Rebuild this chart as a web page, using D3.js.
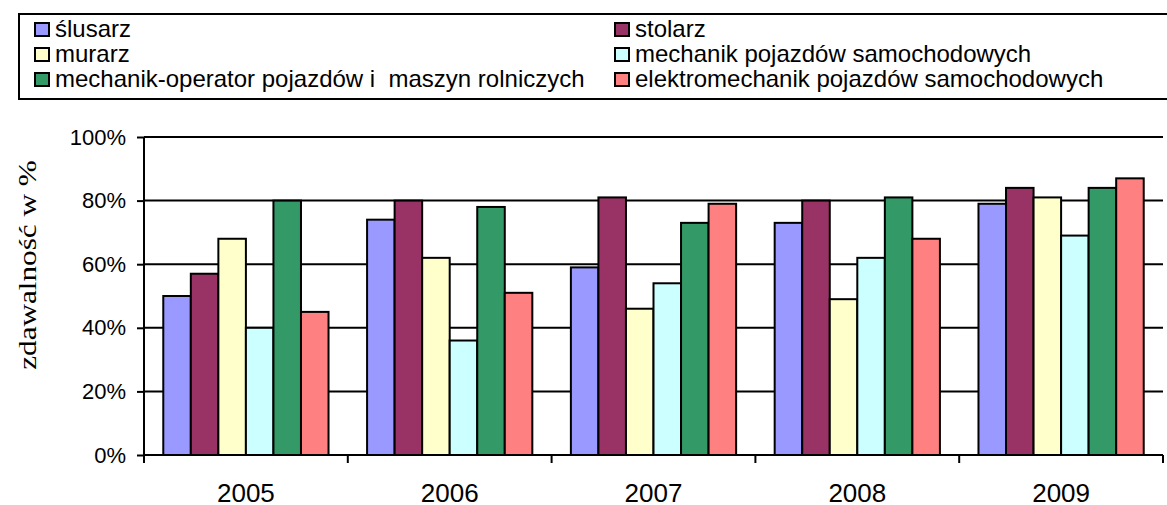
<!DOCTYPE html>
<html>
<head>
<meta charset="utf-8">
<script src="https://cdn.jsdelivr.net/npm/d3@7"></script>
<style>
  body { margin: 0; background: #fff; }
  svg { display: block; }
</style>
</head>
<body>
<div id="chart"></div>
<script>
// data
const years = ['2005', '2006', '2007', '2008', '2009'];
const trades = [
  'ślusarz',
  'stolarz',
  'murarz',
  'mechanik pojazdów samochodowych',
  'mechanik-operator pojazdów i  maszyn rolniczych',
  'elektromechanik pojazdów samochodowych'
];
const colors = ['#9999FF', '#993366', '#FFFFCC', '#CCFFFF', '#339966', '#FF8080'];
const slusarz         = [50, 74, 59, 73, 79];
const stolarz         = [57, 80, 81, 80, 84];
const murarz          = [68, 62, 46, 49, 81];
const mechanik        = [40, 36, 54, 62, 69];
const mechanikOp      = [80, 78, 73, 81, 84];
const elektromechanik = [45, 51, 79, 68, 87];
const series = [slusarz, stolarz, murarz, mechanik, mechanikOp, elektromechanik];
const yTicks = [0, 20, 40, 60, 80, 100];

const width = 1167, height = 505;
const margin = {top: 137, right: 4, bottom: 50, left: 144};
const innerWidth = width - margin.left - margin.right;
const innerHeight = height - margin.top - margin.bottom;

const svg = d3.select('#chart').append('svg')
    .attr('width', width)
    .attr('height', height);

const font = '"Liberation Sans", Arial, sans-serif';

// legend box (runs past the right edge like the original)
const legend = svg.append('g');
legend.append('rect')
    .attr('x', 19).attr('y', 14)
    .attr('width', 1170).attr('height', 85)
    .attr('fill', '#fff')
    .attr('stroke', '#000')
    .attr('stroke-width', 2);

const legendItems = legend.selectAll('g.item')
    .data(d3.range(trades.length))
    .join('g')
    .attr('class', 'item')
    .attr('transform', (d, i) => `translate(${i % 2 ? 614 : 34}, ${37 + Math.floor(i / 2) * 25})`);

legendItems.append('rect')
    .attr('x', 1).attr('y', -14)
    .attr('width', 14).attr('height', 13)
    .attr('fill', d => colors[d])
    .attr('stroke', '#000')
    .attr('stroke-width', 2);

legendItems.append('text')
    .attr('x', 21)
    .attr('y', 0)
    .attr('font-family', font)
    .attr('font-size', 24)
    .style('white-space', 'pre')
    .text(d => trades[d]);

// plot
const g = svg.append('g')
    .attr('transform', `translate(${margin.left}, ${margin.top})`);

const x0 = d3.scaleBand()
    .domain(years)
    .range([0, innerWidth])
    .padding(0);

const x1 = d3.scaleBand()
    .domain(d3.range(trades.length))
    .range([0, x0.bandwidth()])
    .paddingInner(0)
    .paddingOuter(0.7);

const y = d3.scaleLinear()
    .domain([0, 100])
    .range([innerHeight, 0]);

// gridlines
g.append('g')
    .selectAll('line')
    .data(yTicks.filter(d => d > 0))
    .join('line')
    .attr('x1', 0).attr('x2', innerWidth)
    .attr('y1', d => y(d)).attr('y2', d => y(d))
    .attr('stroke', '#000')
    .attr('stroke-width', 2);

// bars
g.append('g')
    .selectAll('g')
    .data(years)
    .join('g')
    .attr('transform', d => `translate(${x0(d)}, 0)`)
    .selectAll('rect')
    .data((d, yi) => series.map((s, si) => ({si, v: s[yi]})))
    .join('rect')
    .attr('x', d => x1(d.si))
    .attr('y', d => y(d.v))
    .attr('width', x1.bandwidth())
    .attr('height', d => innerHeight - y(d.v))
    .attr('fill', d => colors[d.si])
    .attr('stroke', '#000')
    .attr('stroke-width', 2);

// y axis
const yAxis = g.append('g')
    .call(d3.axisLeft(y).tickValues(yTicks).tickSize(7).tickPadding(11).tickFormat(d => d + '%'));
yAxis.selectAll('path, line').attr('stroke', '#000').attr('stroke-width', 2);
yAxis.select('.domain').attr('d', `M0,${innerHeight + 7}V0`);
yAxis.selectAll('text')
    .attr('font-family', font)
    .attr('font-size', 22)
    .attr('fill', '#000');

// x axis
const xAxis = g.append('g')
    .attr('transform', `translate(0, ${innerHeight})`)
    .call(d3.axisBottom(x0).tickSize(0).tickPadding(0));
xAxis.select('.domain').attr('d', `M0,0H${innerWidth}`).attr('stroke', '#000').attr('stroke-width', 2);
xAxis.selectAll('text')
    .attr('dy', null)
    .attr('y', 47)
    .attr('font-family', font)
    .attr('font-size', 26)
    .attr('fill', '#000');

// category separator ticks
xAxis.append('g')
    .selectAll('line')
    .data(d3.range(years.length + 1))
    .join('line')
    .attr('x1', d => d * x0.step())
    .attr('x2', d => d * x0.step())
    .attr('y1', 0).attr('y2', 8)
    .attr('stroke', '#000')
    .attr('stroke-width', 2);

// y label
svg.append('text')
    .attr('transform', 'translate(36, 265) rotate(-90) scale(1.2, 1)')
    .attr('text-anchor', 'middle')
    .attr('font-family', '"Liberation Serif", "Times New Roman", serif')
    .attr('font-size', 26)
    .text('zdawalność w %');
</script>
</body>
</html>
